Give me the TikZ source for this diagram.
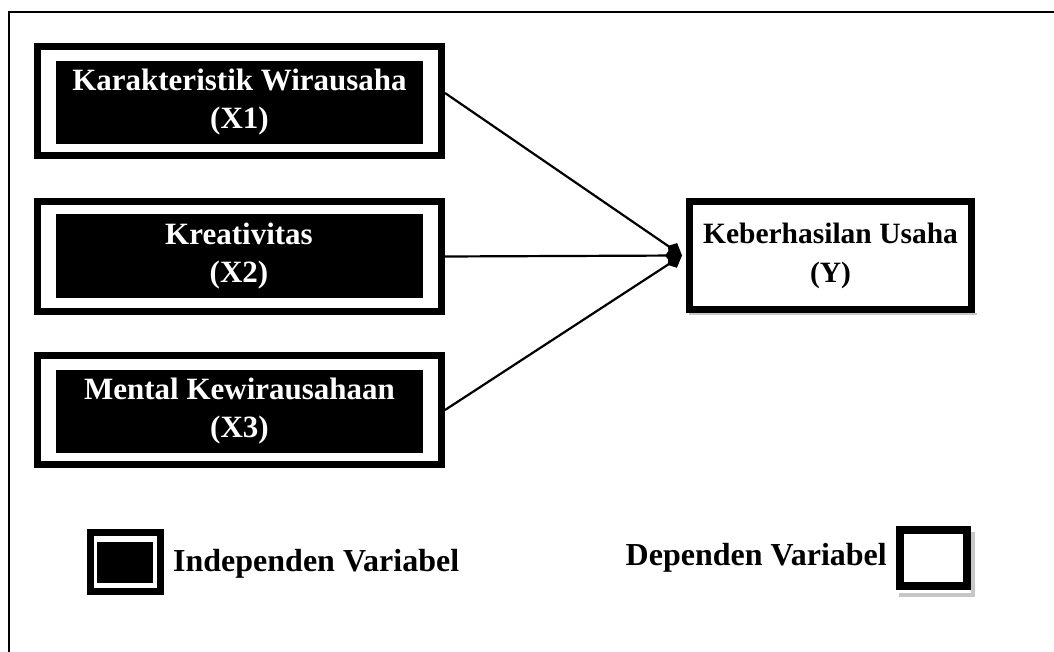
\documentclass[tikz,border=0pt]{standalone}
\usepackage{fontspec}
\setmainfont{Liberation Serif}
\usetikzlibrary{arrows.meta}
\tikzset{
  indep/.style={draw, line width=7pt, minimum width=404pt, minimum height=109pt, inner sep=0pt},
  indepin/.style={fill=black, text=white, minimum width=367pt, minimum height=83pt, inner sep=0pt, align=center,
    font=\bfseries\fontsize{31}{38}\selectfont},
  depbox/.style={draw, fill=white, line width=7pt, minimum width=282pt, minimum height=108pt, inner sep=0pt, align=center,
    font=\bfseries\fontsize{29.5}{39}\selectfont},
  legtext/.style={inner sep=0pt, font=\bfseries\fontsize{32}{38}\selectfont},
  arr/.style={line width=2.2pt, -{Kite[length=17pt, width=15pt, inset=6pt]}},
  shadowline/.style={fill=black!22, draw=none}
}
\begin{document}
\begin{tikzpicture}[x=1pt, y=-1pt]
\useasboundingbox (0,0) rectangle (1054,652);
\fill[white] (0,0) rectangle (1054,652);
% outer frame (only left and top visible)
\draw[line width=2pt] (9,652) -- (9,12) -- (1054,12);

% independent boxes
\node[indep] (x1) at (239.5,101) {};
\node[indepin] (x1in) at (239.5,102.5) {Karakteristik Wirausaha\\(X1)};
\node[indep] (x2) at (239,256.5) {};
\node[indepin] (x2in) at (239,256) {Kreativitas\\(X2)};
\node[indep] (x3) at (239.5,410) {};
\node[indepin] (x3in) at (239.5,411) {Mental Kewirausahaan\\(X3)};

% dependent box
\fill[shadowline] (689,313) rectangle (977,315);
\node[depbox] (y) at (830.5,255.5) {Keberhasilan Usaha\\(Y)};

% arrows
\coordinate (tip) at ([xshift=-4pt]y.west);
\draw[arr] ([yshift=8pt]x1.east) -- (tip);
\draw[arr] (x2.east) -- (tip);
\draw[arr] (x3.east) -- (tip);

% legend: independent
\node[draw, line width=7pt, minimum width=70pt, minimum height=59pt, inner sep=0pt] (li) at (125.5,562) {};
\node[fill=black, minimum width=56pt, minimum height=41pt, inner sep=0pt] (liin) at (125,562.5) {};
\node[legtext, anchor=base west] (lit) at (173,571) {Independen Variabel};

% legend: dependent
\fill[shadowline] (971,532) rectangle (974.5,597);
\fill[shadowline] (899,593) rectangle (974.5,597);
\node[draw, fill=white, line width=8pt, minimum width=67pt, minimum height=56pt, inner sep=0pt] (ld) at (933.5,558) {};
\node[legtext, anchor=base east] (ldt) at (887,565) {Dependen Variabel};
\end{tikzpicture}
\end{document}
